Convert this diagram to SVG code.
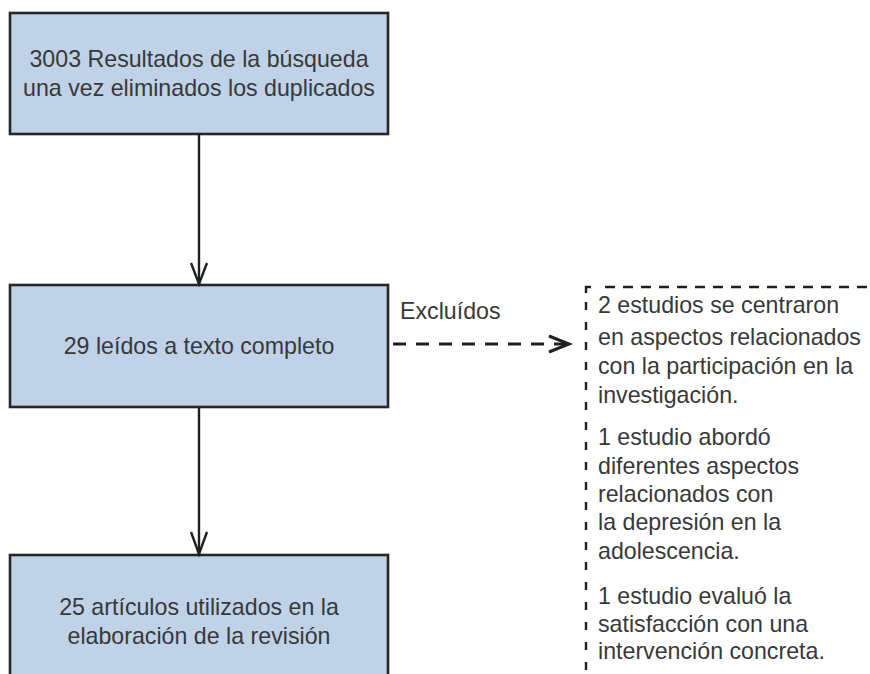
<svg xmlns="http://www.w3.org/2000/svg" width="870" height="674" viewBox="0 0 870 674">
  <defs>
    <style>
      .box { fill: #bfd2e7; stroke: #262626; stroke-width: 2.6; }
      .t { font-family: "Liberation Sans", Arial, sans-serif; font-size: 23.2px; fill: #383838; }
      .c { text-anchor: middle; }
      .line { stroke: #1f1f1f; stroke-width: 2.4; fill: none; }
      .head { stroke: #1f1f1f; stroke-width: 3; fill: none; }
      .dash { stroke: #1f1f1f; stroke-width: 2.8; fill: none; stroke-dasharray: 13 10; }
      .dh { stroke: #1f1f1f; stroke-width: 2.6; fill: none; stroke-dasharray: 10 8; }
      .dv { stroke: #1f1f1f; stroke-width: 2.4; fill: none; stroke-dasharray: 8 12; }
    </style>
  </defs>
  <rect width="870" height="674" fill="#ffffff"/>

  <g id="node-resultados">
    <rect class="box" x="10" y="13" width="378" height="121"/>
    <text class="t c" x="199" y="67">3003 Resultados de la búsqueda</text>
    <text class="t c" x="199" y="96">una vez eliminados los duplicados</text>
  </g>

  <g id="node-leidos">
    <rect class="box" x="10" y="285" width="378" height="122"/>
    <text class="t c" x="199" y="354">29 leídos a texto completo</text>
  </g>

  <g id="node-articulos">
    <rect class="box" x="10" y="555" width="378" height="140"/>
    <text class="t c" x="199" y="615">25 artículos utilizados en la</text>
    <text class="t c" x="199" y="644">elaboración de la revisión</text>
  </g>

  <g id="node-excluidos">
    <path class="line" d="M586 293 V287 H591"/>
    <line class="dh" x1="605" y1="287" x2="870" y2="287"/>
    <line class="dv" x1="586" y1="302" x2="586" y2="674"/>
    <text class="t" x="598" y="313">2 estudios se centraron</text>
    <text class="t" x="598" y="345">en aspectos relacionados</text>
    <text class="t" x="598" y="374">con la participación en la</text>
    <text class="t" x="598" y="403">investigación.</text>
    <text class="t" x="598" y="445">1 estudio abordó</text>
    <text class="t" x="598" y="474">diferentes aspectos</text>
    <text class="t" x="598" y="502">relacionados con</text>
    <text class="t" x="598" y="530">la depresión en la</text>
    <text class="t" x="598" y="559">adolescencia.</text>
    <text class="t" x="598" y="604">1 estudio evaluó la</text>
    <text class="t" x="598" y="632">satisfacción con una</text>
    <text class="t" x="598" y="659">intervención concreta.</text>
  </g>

  <g id="connectors">
    <line class="line" x1="199" y1="134" x2="199" y2="284"/>
    <polyline class="line" points="191,263 199,284 207,263"/>
    <line class="line" x1="199" y1="407" x2="199" y2="554"/>
    <polyline class="line" points="191,532 199,554 207,532"/>
    <line class="dash" x1="393" y1="344" x2="566" y2="344"/>
    <polyline class="head" points="549,336 569,344 549,352"/>
    <text class="t" x="400" y="319">Excluídos</text>
  </g>
</svg>
